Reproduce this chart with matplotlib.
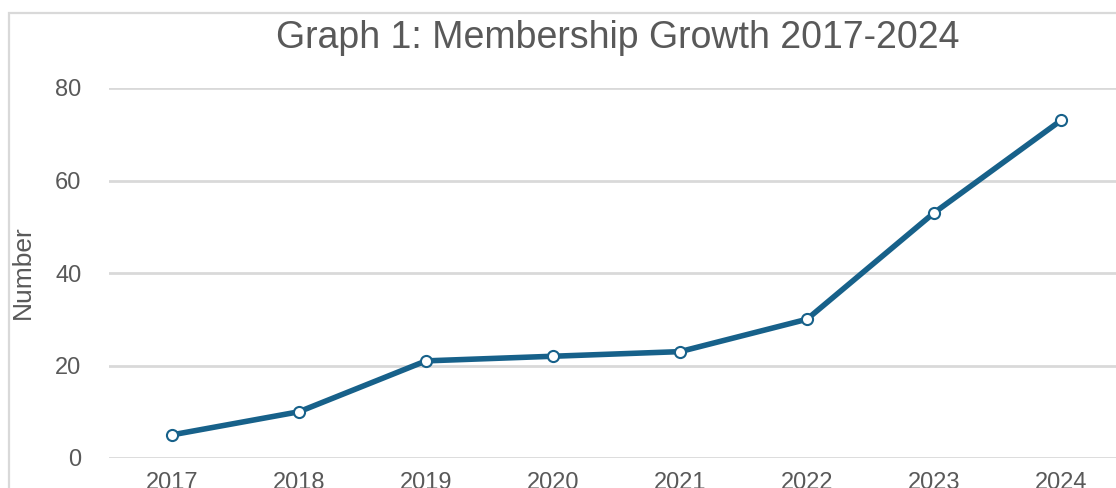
import matplotlib

matplotlib.use("Agg")
import matplotlib.pyplot as plt
from matplotlib.patches import Rectangle

YEARS = ["2017", "2018", "2019", "2020", "2021", "2022", "2023", "2024"]
MEMBERS = [5, 10, 21, 22, 23, 30, 53, 73]
Y_TICKS = [0, 20, 40, 60, 80]

LINE_COLOR = "#17618a"
TEXT_COLOR = "#595959"
GRID_COLOR = "#d9d9d9"

plt.rcParams["font.family"] = ["Liberation Sans", "DejaVu Sans"]

W, H = 1116, 488
fig = plt.figure(figsize=(W / 100, H / 100), dpi=100)

# plot area runs off the right and bottom edge, like the cropped original
left, right = 108.5, 1124.5
top, bottom = 88, 458
ax = fig.add_axes([left / W, (H - bottom) / H, (right - left) / W, (bottom - top) / H])

x = range(len(YEARS))
ax.plot(
    x,
    MEMBERS,
    color=LINE_COLOR,
    linewidth=4,
    marker="o",
    markersize=8,
    markerfacecolor="white",
    markeredgecolor=LINE_COLOR,
    markeredgewidth=1.5,
    zorder=3,
    solid_capstyle="round",
)

ax.set_xlim(-0.5, len(YEARS) - 0.5)
ax.set_ylim(0, 80)
ax.set_xticks(list(x))
ax.set_xticklabels(YEARS)
ax.set_yticks(Y_TICKS)
ax.tick_params(axis="both", length=0, labelsize=17, labelcolor=TEXT_COLOR)
ax.tick_params(axis="y", pad=19.5)
ax.tick_params(axis="x", pad=10)
ax.grid(axis="y", color=GRID_COLOR, linewidth=2)
ax.set_axisbelow(True)
for s in ax.spines.values():
    s.set_visible(False)

fig.text(23 / W, 1 - 272 / H, "Number", rotation=90, ha="center", va="center",
         fontsize=19, color=TEXT_COLOR)

fig.text(617.5 / W, 1 - 48 / H, "Graph 1: Membership Growth 2017-2024",
         ha="center", va="baseline", fontsize=27, color=TEXT_COLOR)

# chart frame, also cut off at right and bottom
fig.patches.append(Rectangle((9 / W, -0.1), 1.2, (H - 13) / H + 0.1,
                             transform=fig.transFigure, fill=False,
                             edgecolor=GRID_COLOR, linewidth=1.6))

fig.savefig("out.png", dpi=100)
